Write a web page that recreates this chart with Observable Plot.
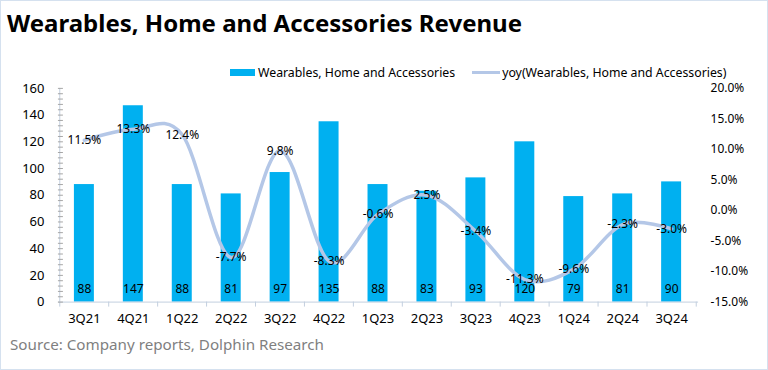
<!DOCTYPE html>
<html>
<head>
<meta charset="utf-8">
<script src="https://cdn.jsdelivr.net/npm/d3@7"></script>
<script src="https://cdn.jsdelivr.net/npm/@observablehq/plot@0.6"></script>
<style>
  html, body { margin: 0; padding: 0; background: #fff; }
  #wrap { position: relative; width: 768px; height: 370px; box-sizing: border-box; border: 1px solid #d5e1ef; overflow: hidden; font-family: "Noto Sans", sans-serif; }
  #title { position: absolute; left: 6px; top: 5px; font-size: 24px; font-weight: bold; color: #000; white-space: nowrap; }
  #legend { position: absolute; top: 63px; left: 229px; font-size: 12.3px; color: #000; white-space: nowrap; display: flex; align-items: center; }
  .sw-bar { display: inline-block; width: 25px; height: 7px; background: #00b0f0; margin-right: 3px; }
  .sw-line { display: inline-block; width: 28px; height: 3px; background: #b4c7e7; margin-left: 17px; margin-right: 2px; }
  #chart { position: absolute; left: -1px; top: -1px; }
  #caption { position: absolute; left: 9px; top: 333px; font-size: 15.2px; color: #7f7f7f; white-space: nowrap; }
</style>
</head>
<body>
<div id="wrap">
  <div id="chart"></div>
  <div id="title">Wearables, Home and Accessories Revenue</div>
  <div id="legend"><span class="sw-bar"></span><span>Wearables, Home and Accessories</span><span class="sw-line"></span><span>yoy(Wearables, Home and Accessories)</span></div>
  <div id="caption">Source: Company reports, Dolphin Research</div>
</div>
<script>
const quarters = ["3Q21","4Q21","1Q22","2Q22","3Q22","4Q22","1Q23","2Q23","3Q23","4Q23","1Q24","2Q24","3Q24"];
const revenue = [88,147,88,81,97,135,88,83,93,120,79,81,90];
const yoy = [11.5,13.3,12.4,-7.7,9.8,-8.3,-0.6,2.5,-3.4,-11.3,-9.6,-2.3,-3.0];
const leftTicks = [0,20,40,60,80,100,120,140,160];
const rightTicks = [-15,-10,-5,0,5,10,15,20];

const data = quarters.map((q, i) => ({q, rev: revenue[i], yoy: yoy[i]}));
const leftMax = 160, rMin = -15, rMax = 20;
const toLeft = v => (v - rMin) / (rMax - rMin) * leftMax;
const fromLeft = v => v / leftMax * (rMax - rMin) + rMin;

const W = 768, H = 335, mL = 58, mR = 69, mT = 88, mB = 33;
const step = (W - mL - mR) / quarters.length;
const axisColor = "#c3cfdf";
const minorTicks = d3.range(0, leftMax + 1, 4);

const chart = Plot.plot({
  width: W, height: H, marginTop: mT, marginBottom: mB, marginLeft: mL, marginRight: mR,
  style: {fontFamily: "Noto Sans, sans-serif", fontSize: "13px", color: "#000", background: "transparent", overflow: "visible"},
  x: {domain: quarters, paddingInner: 0.59, paddingOuter: 0.295, label: null},
  y: {domain: [0, leftMax], label: null},
  marks: [
    Plot.barY(data, {x: "q", y: "rev", fill: "#00b0f0"}),
    Plot.ruleY([0], {stroke: axisColor}),
    Plot.ruleX([quarters[0]], {dx: -step / 2, y1: () => 0, y2: () => leftMax, stroke: axisColor}),
    Plot.ruleX(quarters, {x: d => d, dx: -step / 2, y1: () => 0, y2: () => 0, insetBottom: -5, stroke: axisColor}),
    Plot.ruleX([quarters[quarters.length - 1]], {dx: step / 2, y1: () => 0, y2: () => 0, insetBottom: -5, stroke: axisColor}),
    Plot.axisY({anchor: "left", ticks: minorTicks, tickSize: -5, stroke: "#a6a6a6", tickFormat: () => ""}),
    Plot.axisY({anchor: "left", ticks: leftTicks, tickSize: 0, tickPadding: 14, fontSize: 13, tickFormat: d => String(d)}),
    Plot.axisY({anchor: "right", ticks: rightTicks.map(toLeft), tickSize: 0, tickPadding: 12, fontSize: 12, textAnchor: "start",
      tickFormat: d => (Math.round(fromLeft(d) * 10) / 10 + 0).toFixed(1) + "%"}),
    Plot.axisX({anchor: "bottom", tickSize: 0, tickPadding: 12, fontSize: 13}),
    Plot.line(data, {x: "q", y: d => toLeft(d.yoy), curve: "cardinal", stroke: "#b4c7e7", strokeWidth: 3.5}),
    Plot.text(data, {x: "q", y: () => 0, dy: -13, text: d => String(d.rev), fontSize: 12, fill: "#000"}),
    Plot.text(data, {x: "q", y: d => toLeft(d.yoy), text: d => d.yoy.toFixed(1) + "%", fontSize: 12, fill: "#000"})
  ]
});
document.getElementById("chart").appendChild(chart);
</script>
</body>
</html>
